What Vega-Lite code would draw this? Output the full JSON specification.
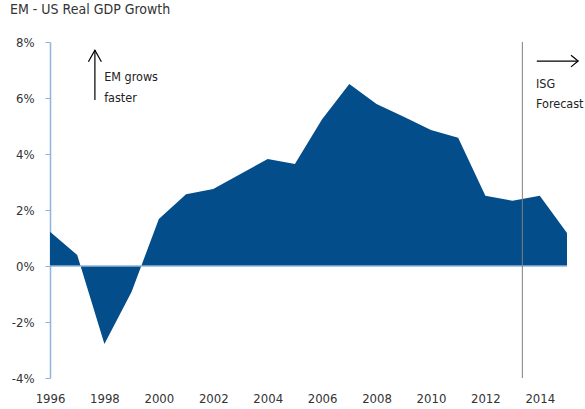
{
  "$schema": "https://vega.github.io/schema/vega-lite/v6.json",
  "width": 517,
  "height": 336,
  "autosize": {"type": "none"},
  "padding": {"left": 50, "top": 42, "right": 18, "bottom": 31},
  "title": {
    "text": "EM - US Real GDP Growth",
    "anchor": "start",
    "frame": "group",
    "dx": -40,
    "offset": 19,
    "fontSize": 14,
    "fontWeight": "normal",
    "color": "#333333",
    "font": "DejaVu Sans Condensed, sans-serif"
  },
  "datasets": {
    "gdp": [
      {"x": 1996, "y": 1.22},
      {"x": 1997, "y": 0.39},
      {"x": 1998, "y": -2.79},
      {"x": 1999, "y": -0.92},
      {"x": 2000, "y": 1.68},
      {"x": 2001, "y": 2.56},
      {"x": 2002, "y": 2.75},
      {"x": 2003, "y": 3.29},
      {"x": 2004, "y": 3.82},
      {"x": 2005, "y": 3.64},
      {"x": 2006, "y": 5.24},
      {"x": 2007, "y": 6.5},
      {"x": 2008, "y": 5.79},
      {"x": 2009, "y": 5.33},
      {"x": 2010, "y": 4.86},
      {"x": 2011, "y": 4.58},
      {"x": 2012, "y": 2.51},
      {"x": 2013, "y": 2.33},
      {"x": 2014, "y": 2.51},
      {"x": 2015, "y": 1.18}
    ],
    "notes": [
      {"x": 1997.99, "y": 6.61, "label": "EM grows"},
      {"x": 1997.99, "y": 5.87, "label": "faster"},
      {"x": 2013.86, "y": 6.37, "label": "ISG"},
      {"x": 2013.86, "y": 5.65, "label": "Forecast"}
    ]
  },
  "layer": [
    {
      "data": {"name": "gdp"},
      "mark": {"type": "area", "color": "#034d8b"},
      "encoding": {
        "x": {
          "field": "x",
          "type": "quantitative",
          "title": null,
          "scale": {"domain": [1996, 2015], "nice": false, "zero": false},
          "axis": {
            "values": [1996, 1998, 2000, 2002, 2004, 2006, 2008, 2010, 2012, 2014],
            "format": "d",
            "domain": false,
            "ticks": false,
            "grid": false,
            "labelFlush": false,
            "labelOverlap": false,
            "labelPadding": 14,
            "labelFontSize": 13
          }
        },
        "y": {
          "field": "y",
          "type": "quantitative",
          "title": null,
          "scale": {"domain": [-4, 8], "nice": false},
          "axis": {
            "values": [-4, -2, 0, 2, 4, 6, 8],
            "labelExpr": "datum.value + '%'",
            "grid": false,
            "domainColor": "#8fb5db",
            "domainWidth": 1.5,
            "tickColor": "#8fb5db",
            "tickSize": 5,
            "labelPadding": 11,
            "labelFontSize": 13
          }
        }
      }
    },
    {
      "data": {"values": [{"y": 0}]},
      "mark": {"type": "rule", "color": "#8fb5db", "strokeWidth": 1.5},
      "encoding": {"y": {"field": "y", "type": "quantitative", "title": null}}
    },
    {
      "data": {"values": [{"x": 2013.36}]},
      "mark": {"type": "rule", "color": "#808080", "strokeWidth": 1},
      "encoding": {"x": {"field": "x", "type": "quantitative", "title": null}}
    },
    {
      "data": {"values": [{"x": 1997.65, "y": 5.93, "y2": 7.71}]},
      "mark": {"type": "rule", "color": "#000000", "strokeWidth": 1.2},
      "encoding": {
        "x": {"field": "x", "type": "quantitative", "title": null},
        "y": {"field": "y", "type": "quantitative", "title": null},
        "y2": {"field": "y2"}
      }
    },
    {
      "data": {"values": [{"x": 2013.89, "x2": 2015.41, "y": 7.32}]},
      "mark": {"type": "rule", "color": "#000000", "strokeWidth": 1.2},
      "encoding": {
        "x": {"field": "x", "type": "quantitative", "title": null},
        "x2": {"field": "x2"},
        "y": {"field": "y", "type": "quantitative", "title": null}
      }
    },
    {
      "data": {"values": [{"x": 1997.65, "y": 7.71}]},
      "mark": {"type": "point", "shape": "M-1,1.8L0,0L1,1.8", "size": 169, "filled": false, "stroke": "#000000", "strokeWidth": 1.2, "opacity": 1},
      "encoding": {
        "x": {"field": "x", "type": "quantitative", "title": null},
        "y": {"field": "y", "type": "quantitative", "title": null}
      }
    },
    {
      "data": {"values": [{"x": 2015.41, "y": 7.32}]},
      "mark": {"type": "point", "shape": "M-1.1,-0.9L0,0L-1.1,0.9", "size": 169, "filled": false, "stroke": "#000000", "strokeWidth": 1.2, "opacity": 1},
      "encoding": {
        "x": {"field": "x", "type": "quantitative", "title": null},
        "y": {"field": "y", "type": "quantitative", "title": null}
      }
    },
    {
      "data": {"name": "notes"},
      "mark": {"type": "text", "align": "left", "baseline": "alphabetic", "fontSize": 12.5, "color": "#222222", "font": "DejaVu Sans Condensed, sans-serif"},
      "encoding": {
        "x": {"field": "x", "type": "quantitative", "title": null},
        "y": {"field": "y", "type": "quantitative", "title": null},
        "text": {"field": "label"}
      }
    }
  ],
  "config": {
    "view": {"stroke": null},
    "font": "DejaVu Sans Condensed, sans-serif",
    "axis": {"labelColor": "#333333", "labelFont": "DejaVu Sans Condensed, sans-serif"}
  }
}
